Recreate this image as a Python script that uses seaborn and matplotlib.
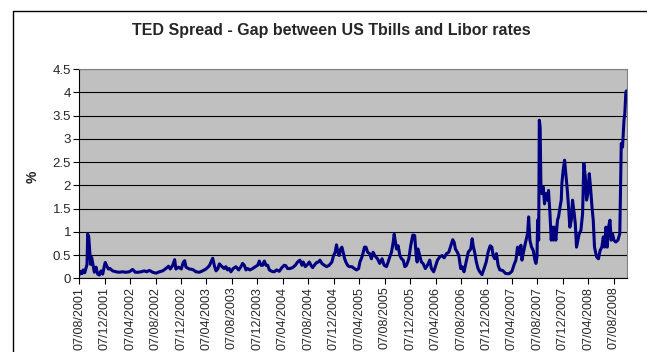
import matplotlib
matplotlib.use("Agg")
import matplotlib.pyplot as plt
import matplotlib.dates as mdates
from matplotlib.lines import Line2D
import seaborn as sns
import pandas as pd

title = "TED Spread - Gap between US Tbills and Libor rates"
y_label = "%"
y_ticks = [0, 0.5, 1, 1.5, 2, 2.5, 3, 3.5, 4, 4.5]

dates_2001_2003 = [
    "2001-08-07", "2001-08-13", "2001-08-20", "2001-08-26", "2001-09-02", "2001-09-08",
    "2001-09-13", "2001-09-16", "2001-09-21", "2001-09-25", "2001-09-30", "2001-10-05",
    "2001-10-11", "2001-10-18", "2001-10-26", "2001-11-03", "2001-11-11", "2001-11-19",
    "2001-11-27", "2001-12-05", "2001-12-09", "2001-12-16", "2001-12-24", "2002-01-01",
    "2002-01-13", "2002-01-29", "2002-02-14", "2002-03-02", "2002-03-18", "2002-04-03",
    "2002-04-19", "2002-05-02", "2002-05-15", "2002-05-29", "2002-06-14", "2002-06-25",
    "2002-07-08", "2002-07-24", "2002-08-09", "2002-08-25", "2002-09-10", "2002-09-25",
    "2002-10-08", "2002-10-16", "2002-10-27", "2002-11-06", "2002-11-12", "2002-11-25",
    "2002-12-08", "2002-12-17", "2002-12-24", "2002-12-30", "2003-01-15", "2003-01-31",
    "2003-02-16", "2003-03-04", "2003-03-20", "2003-04-05", "2003-04-21", "2003-05-07",
    "2003-05-15", "2003-05-23", "2003-05-31", "2003-06-08", "2003-06-23",
]
values_2001_2003 = [
    0.08, 0.15, 0.10, 0.18, 0.12, 0.22,
    0.30, 0.95, 0.90, 0.65, 0.30, 0.45,
    0.30, 0.13, 0.24, 0.09, 0.07, 0.16,
    0.09, 0.27, 0.34, 0.27, 0.20, 0.21,
    0.16, 0.14, 0.13, 0.14, 0.13, 0.14,
    0.19, 0.13, 0.13, 0.14, 0.16, 0.14,
    0.17, 0.13, 0.11, 0.14, 0.16, 0.21,
    0.26, 0.20, 0.27, 0.40, 0.20, 0.24,
    0.20, 0.34, 0.38, 0.24, 0.20, 0.19,
    0.14, 0.13, 0.16, 0.20, 0.27, 0.43,
    0.27, 0.16, 0.20, 0.31, 0.24,
]

dates_2003_2005 = [
    "2003-07-01", "2003-07-09", "2003-07-17", "2003-07-25", "2003-08-02", "2003-08-13",
    "2003-08-26", "2003-09-08", "2003-09-19", "2003-09-27", "2003-10-05", "2003-10-13",
    "2003-10-21", "2003-11-01", "2003-11-14", "2003-11-27", "2003-12-08", "2003-12-16",
    "2003-12-24", "2004-01-01", "2004-01-09", "2004-01-17", "2004-01-25", "2004-02-02",
    "2004-02-14", "2004-02-25", "2004-03-08", "2004-03-20", "2004-04-02", "2004-04-13",
    "2004-04-21", "2004-04-29", "2004-05-10", "2004-05-23", "2004-06-05", "2004-06-16",
    "2004-06-27", "2004-07-07", "2004-07-13", "2004-07-23", "2004-08-03", "2004-08-11",
    "2004-08-19", "2004-08-27", "2004-09-04", "2004-09-15", "2004-09-24", "2004-10-01",
    "2004-10-10", "2004-10-22", "2004-11-02", "2004-11-14", "2004-11-27", "2004-12-05",
    "2004-12-13", "2004-12-19", "2004-12-26", "2005-01-01", "2005-01-08", "2005-01-14",
    "2005-01-20", "2005-01-27", "2005-02-02", "2005-02-10", "2005-02-18", "2005-03-03",
    "2005-03-14", "2005-03-25", "2005-04-04", "2005-04-10", "2005-04-20", "2005-04-26",
    "2005-05-02", "2005-05-09", "2005-05-17",
]
values_2003_2005 = [
    0.21, 0.25, 0.18, 0.21, 0.14, 0.21,
    0.25, 0.18, 0.25, 0.32, 0.28, 0.18,
    0.21, 0.18, 0.21, 0.25, 0.28, 0.37,
    0.28, 0.28, 0.37, 0.28, 0.28, 0.18,
    0.15, 0.14, 0.18, 0.15, 0.23, 0.28,
    0.27, 0.21, 0.21, 0.23, 0.28, 0.35,
    0.39, 0.28, 0.35, 0.25, 0.30, 0.35,
    0.28, 0.23, 0.28, 0.34, 0.35, 0.39,
    0.32, 0.28, 0.25, 0.28, 0.35, 0.49,
    0.56, 0.72, 0.56, 0.49, 0.63, 0.67,
    0.56, 0.42, 0.35, 0.28, 0.25, 0.25,
    0.21, 0.18, 0.21, 0.35, 0.46, 0.56,
    0.67, 0.67, 0.56,
]

dates_2005_2007 = [
    "2005-05-27", "2005-06-04", "2005-06-12", "2005-06-20", "2005-07-03", "2005-07-14",
    "2005-07-25", "2005-08-04", "2005-08-15", "2005-08-23", "2005-08-31", "2005-09-08",
    "2005-09-16", "2005-09-21", "2005-09-27", "2005-10-02", "2005-10-10", "2005-10-18",
    "2005-10-26", "2005-11-03", "2005-11-11", "2005-11-19", "2005-11-30", "2005-12-09",
    "2005-12-19", "2005-12-28", "2006-01-04", "2006-01-09", "2006-01-13", "2006-01-21",
    "2006-01-29", "2006-02-06", "2006-02-17", "2006-02-27", "2006-03-10", "2006-03-18",
    "2006-03-29", "2006-04-06", "2006-04-16", "2006-04-27", "2006-05-08", "2006-05-18",
    "2006-05-29", "2006-06-09", "2006-06-19", "2006-06-28", "2006-07-05", "2006-07-11",
    "2006-07-20", "2006-07-27", "2006-08-05", "2006-08-12", "2006-08-21", "2006-08-31",
    "2006-09-10", "2006-09-22", "2006-09-29", "2006-10-05", "2006-10-11", "2006-10-19",
    "2006-10-27", "2006-11-04", "2006-11-15", "2006-11-25", "2006-12-05", "2006-12-14",
    "2006-12-24", "2007-01-01", "2007-01-07", "2007-01-15", "2007-01-23", "2007-01-31",
    "2007-02-08",
]
values_2005_2007 = [
    0.53, 0.42, 0.56, 0.49, 0.42, 0.32,
    0.42, 0.28, 0.25, 0.35, 0.46, 0.56,
    0.77, 0.95, 0.77, 0.63, 0.70, 0.49,
    0.42, 0.39, 0.25, 0.28, 0.42, 0.70,
    0.93, 0.92, 0.49, 0.35, 0.63, 0.49,
    0.35, 0.32, 0.21, 0.28, 0.39, 0.21,
    0.14, 0.25, 0.39, 0.46, 0.49, 0.44,
    0.53, 0.56, 0.70, 0.83, 0.77, 0.63,
    0.56, 0.49, 0.21, 0.25, 0.14, 0.35,
    0.56, 0.63, 0.85, 0.67, 0.56, 0.35,
    0.21, 0.14, 0.08, 0.21, 0.35, 0.56,
    0.70, 0.67, 0.49, 0.42, 0.53, 0.28,
    0.18,
]

dates_2007_2008 = [
    "2007-02-21", "2007-03-09", "2007-03-25", "2007-04-07", "2007-04-18", "2007-04-26",
    "2007-05-04", "2007-05-12", "2007-05-20", "2007-05-25", "2007-05-31", "2007-06-10",
    "2007-06-21", "2007-06-26", "2007-07-02", "2007-07-10", "2007-07-18", "2007-07-26",
    "2007-07-31", "2007-08-05", "2007-08-08", "2007-08-13", "2007-08-16", "2007-08-20",
    "2007-08-24", "2007-08-28", "2007-09-04", "2007-09-10", "2007-09-17", "2007-09-25",
    "2007-09-29", "2007-10-06", "2007-10-12", "2007-10-18", "2007-10-23", "2007-10-28",
    "2007-11-03", "2007-11-11", "2007-11-16", "2007-11-23", "2007-11-29", "2007-12-02",
    "2007-12-08", "2007-12-15", "2007-12-21", "2007-12-28", "2008-01-03", "2008-01-09",
    "2008-01-16", "2008-01-22", "2008-01-30", "2008-02-04", "2008-02-10", "2008-02-17",
    "2008-02-23", "2008-03-02", "2008-03-10", "2008-03-16", "2008-03-23", "2008-03-29",
    "2008-04-04", "2008-04-11", "2008-04-17", "2008-04-24", "2008-04-30", "2008-05-06",
    "2008-05-16", "2008-05-25", "2008-06-02", "2008-06-10", "2008-06-17", "2008-06-23",
    "2008-06-30", "2008-07-06", "2008-07-12", "2008-07-19", "2008-07-25", "2008-07-31",
    "2008-08-07", "2008-08-16", "2008-08-26", "2008-09-04", "2008-09-11", "2008-09-17",
    "2008-09-24", "2008-09-28", "2008-10-03", "2008-10-06",
]
values_2007_2008 = [
    0.17, 0.10, 0.10, 0.15, 0.30, 0.39,
    0.67, 0.53, 0.71, 0.39, 0.53, 0.75,
    0.96, 1.32, 0.82, 0.67, 0.60, 0.39,
    0.32, 0.46, 1.25, 0.82, 3.40, 3.25,
    1.89, 1.82, 1.96, 1.60, 1.82, 1.68,
    1.89, 1.39, 0.82, 1.10, 0.82, 1.10,
    0.82, 1.25, 1.32, 1.53, 1.68, 2.04,
    2.32, 2.54, 2.25, 1.89, 1.53, 1.10,
    1.25, 1.68, 1.39, 1.18, 0.67, 0.82,
    0.96, 1.03, 1.39, 2.47, 2.18, 1.68,
    1.82, 2.25, 1.96, 1.53, 1.25, 0.67,
    0.46, 0.42, 0.60, 0.67, 0.89, 0.67,
    1.10, 0.67, 1.10, 1.25, 0.82, 0.96,
    0.82, 0.78, 0.82, 0.96, 2.90, 2.82,
    3.40, 3.54, 4.00, 4.03,
]

df = pd.DataFrame({
    "date": pd.to_datetime(dates_2001_2003 + dates_2003_2005 + dates_2005_2007 + dates_2007_2008),
    "spread": values_2001_2003 + values_2003_2005 + values_2005_2007 + values_2007_2008,
})

sns.set_style("white")
plt.rcParams["font.family"] = ["Liberation Sans", "DejaVu Sans"]

W, H = 647, 352
fig = plt.figure(figsize=(W / 100, H / 100), dpi=100)
fig.patch.set_facecolor("white")
ax = fig.add_axes([79.3 / W, 1 - 278.3 / H, (626.7 - 79.3) / W, (278.3 - 69.0) / H])
ax.set_facecolor("#C0C0C0")

sns.lineplot(data=df, x="date", y="spread", ax=ax, color="#000080",
             linewidth=2.2, estimator=None, legend=False)

ax.set_ylim(0, 4.5)
ax.set_yticks(y_ticks)
ax.set_yticklabels([f"{t:g}" for t in y_ticks])
ax.set_xlim(pd.Timestamp("2001-08-07"), pd.Timestamp("2008-10-07"))
ax.xaxis.set_major_locator(mdates.MonthLocator(bymonth=[4, 8, 12], bymonthday=7))
ax.xaxis.set_major_formatter(mdates.DateFormatter("%d/%m/%Y"))
for lab in ax.get_xticklabels():
    lab.set_rotation(90)

ax.grid(axis="y", color="black", linewidth=0.8)
ax.grid(axis="x", visible=False)
ax.set_axisbelow(True)
ax.tick_params(axis="y", which="major", direction="out", length=4, width=0.8,
               color="black", labelsize=9.5, pad=2, left=True)
ax.tick_params(axis="x", which="major", direction="out", length=4, width=0.8,
               color="black", labelsize=9, pad=2, bottom=True)
for side in ["top", "right"]:
    ax.spines[side].set_color("#808080")
    ax.spines[side].set_linewidth(0.8)
for side in ["left", "bottom"]:
    ax.spines[side].set_color("black")
    ax.spines[side].set_linewidth(0.8)
    ax.spines[side].set_visible(True)

ax.set_xlabel("")
ax.set_ylabel(y_label, fontsize=10, fontweight="bold", va="center")
ax.yaxis.set_label_coords(-0.0855, 0.484)
fig.text(331 / W, 1 - 31 / H, title, ha="center", va="center",
         fontsize=11.5, fontweight="bold")

fig.add_artist(Line2D([12.5 / W, 12.5 / W], [0, 1 - 10.5 / H], color="black", linewidth=1.0))
fig.add_artist(Line2D([12.5 / W, 1], [1 - 10.5 / H, 1 - 10.5 / H], color="black", linewidth=1.0))

fig.savefig("out.png", dpi=100)
